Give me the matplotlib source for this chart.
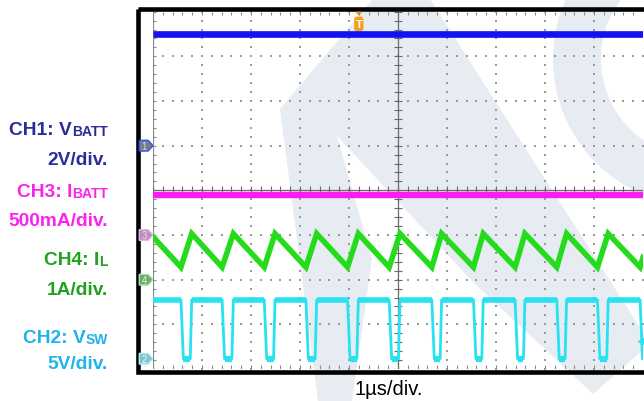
import numpy as np
import matplotlib.pyplot as plt
from matplotlib.patches import Polygon, Rectangle, Wedge, FancyBboxPatch

plt.rcParams['font.family'] = ['Liberation Sans', 'DejaVu Sans']

# time base 1us/div, 10 div, screen centre = 0
t_span = [-5.0, 5.0]

# CH1: V_BATT (V)
vbatt_v = [5.0, 5.0]

# CH3: I_BATT (A)
ibatt_a = [0.45, 0.45]

# CH4: inductor current, vertices of the ripple (us, A)
il_t = [-5.0, -4.43, -4.21, -3.59, -3.36, -2.73, -2.51, -1.88, -1.66, -1.03, -0.81,
        -0.18, 0.04, 0.69, 0.89, 1.54, 1.74, 2.39, 2.59, 3.24, 3.44, 4.07, 4.29, 4.94, 5.0]
il_a = [0.96, 0.28, 1.03, 0.28, 1.03, 0.28, 1.03, 0.28, 1.03, 0.28, 1.03,
        0.28, 1.03, 0.28, 1.03, 0.28, 1.03, 0.28, 1.03, 0.28, 1.03, 0.28, 1.03, 0.28, 0.5]

# CH2: switch node, falling / rising edge times (us) and levels (V)
sw_fall = [-4.43, -3.59, -2.73, -1.88, -1.03, -0.18, 0.69, 1.54, 2.39, 3.24, 4.07, 4.94]
sw_rise = [-4.21, -3.36, -2.51, -1.66, -0.81, 0.04, 0.89, 1.74, 2.59, 3.44, 4.29]
sw_high = 6.6
sw_low = 0.0

# channel settings: units per division and ground marker position (div)
ch_scale = {'CH1': 2.0, 'CH2': 5.0, 'CH3': 0.5, 'CH4': 1.0}
ch_offset = {'CH1': 1.0, 'CH2': -3.77, 'CH3': -1.0, 'CH4': -2.0}
trig_t = -0.8

c_blue = '#1212f4'
c_mag = '#fa1cf2'
c_green = '#24dc1c'
c_cyan = '#28e2f2'


def to_div(vals, ch):
    return [v / ch_scale[ch] + ch_offset[ch] for v in vals]


fig = plt.figure(figsize=(6.44, 4.02), dpi=100)

# background layer in pixel coords: watermark, frame, labels
bg = fig.add_axes([0, 0, 1, 1], zorder=0)
bg.set_xlim(0, 644)
bg.set_ylim(402, 0)
bg.axis('off')

wm = '#e7ebf2'
bg.add_patch(Polygon([(280, 110), (373, 0), (430, 0), (644, 335), (644, 350), (593, 395),
                      (473, 283), (337, 137)], closed=True, fc=wm, ec='none'))
bg.add_patch(Polygon([(280, 110), (337, 137), (372, 260), (352, 402), (318, 402)],
                     closed=True, fc=wm, ec='none'))
bg.add_patch(Wedge((700, 60), 147, 0, 360, width=48, fc=wm, ec='none'))

bg.add_patch(Rectangle((138, 9.5), 600, 363, fill=False, ec='black', lw=3.3))

fig.canvas.draw()
rend = fig.canvas.get_renderer()


def label(y, main, sub, color):
    if sub:
        ts = bg.text(108, y + 1, sub, ha='right', va='baseline', fontsize=10,
                     fontweight='bold', color=color)
        w = ts.get_window_extent(rend).width
    else:
        w = 0
    bg.text(108 - w, y, main, ha='right', va='baseline', fontsize=13.8,
            fontweight='bold', color=color)


label(135, 'CH1: V', 'BATT', '#2b2c98')
label(165, '2V/div.', '', '#2b2c98')
label(197, 'CH3: I', 'BATT', '#fb22ec')
label(226.5, '500mA/div.', '', '#fb22ec')
label(265.5, 'CH4: I', 'L', '#22a020')
label(295, '1A/div.', '', '#22a020')
label(343, 'CH2: V', 'SW', '#1fb2ee')
label(369, '5V/div.', '', '#1fb2ee')

bg.text(389, 395.5, '1\u00b5s/div.', ha='center', va='baseline', fontsize=14.5, color='black')

# scope screen
ax = fig.add_axes([153 / 644, 32 / 402, 490 / 644, 357.3 / 402], zorder=1)
ax.set_xlim(-5, 5)
ax.set_ylim(-4, 4)
ax.set_facecolor('none')
ax.axis('off')

xm = np.arange(-5, 5.001, 0.2)
ym = np.arange(-4, 4.001, 0.2)
dot = '#9a9a9a'
for x in [-4, -3, -2, -1, 1, 2, 3, 4]:
    ax.scatter(np.full(len(ym), x), ym, s=1.0, marker='s', c=dot, linewidths=0)
for y in [-3, -2, -1, 1, 2, 3]:
    ax.scatter(xm, np.full(len(xm), y), s=1.0, marker='s', c=dot, linewidths=0)

ax.axvline(-5, color='#8a8a8a', lw=1.6)
ax.hlines(ym, -5, -4.93, color='#8a8a8a', lw=0.8)
ax.vlines(xm, 3.92, 4, color='#8a8a8a', lw=0.8)
ax.vlines(xm, -4, -3.92, color='#8a8a8a', lw=0.8)
ax.axvline(0, color='#6a6a6a', lw=0.9)
ax.axhline(0, color='#6a6a6a', lw=0.9)
ax.hlines(ym, -0.08, 0.08, color='#6a6a6a', lw=0.8)
ax.vlines(xm, -0.09, 0.09, color='#6a6a6a', lw=0.8)

# traces
ax.plot(t_span, to_div(vbatt_v, 'CH1'), color=c_blue, lw=4.8, solid_capstyle='butt')
ax.plot(t_span, to_div(ibatt_a, 'CH3'), color=c_mag, lw=4.6, solid_capstyle='butt')
ax.plot(il_t, to_div(il_a, 'CH4'), color=c_green, lw=4.0, solid_joinstyle='miter')

sw_t = [t_span[0]]
sw_v = [sw_high]
hi_start = [t_span[0]]
hi_end = []
lo_start = []
lo_end = []
for i, f in enumerate(sw_fall):
    sw_t += [f, f + 0.05]
    sw_v += [sw_high, sw_low]
    hi_end.append(f)
    lo_start.append(f + 0.05)
    if i < len(sw_rise):
        r = sw_rise[i]
        sw_t += [r - 0.03, r]
        sw_v += [sw_low, sw_high]
        lo_end.append(r - 0.03)
        hi_start.append(r)
    else:
        sw_t.append(t_span[1])
        sw_v.append(sw_low)
        lo_end.append(t_span[1])
ax.plot(sw_t, to_div(sw_v, 'CH2'), color=c_cyan, lw=2.0)
ax.hlines(to_div([sw_high] * len(hi_end), 'CH2'), hi_start, hi_end, color=c_cyan, lw=4.0)
ax.hlines(to_div([sw_low] * len(lo_end), 'CH2'), lo_start, lo_end, color=c_cyan, lw=4.4)
ax.plot([4.96], to_div([2.0], 'CH2'), marker='<', ms=4, color=c_cyan, clip_on=False)

# channel ground markers
markers = [('1', 'CH1', '#7d7d7d', '#2f50ff', '#c8d0ff'),
           ('3', 'CH3', '#b391b3', '#f0b0f0', '#f5d8f5'),
           ('4', 'CH4', '#70a870', '#a8e8a8', '#dff5df'),
           ('2', 'CH2', '#80c6cc', '#b0f0f8', '#e6fbff')]
for num, ch, fc, ec, tc in markers:
    y = ch_offset[ch]
    ax.add_patch(Polygon([(-5.28, y - 0.12), (-5.1, y - 0.12), (-5.0, y),
                          (-5.1, y + 0.12), (-5.28, y + 0.12)], closed=True,
                         fc=fc, ec=ec, lw=1, clip_on=False))
    ax.text(-5.18, y, num, ha='center', va='center', fontsize=7, color=tc, clip_on=False)

# trigger position marker
ax.add_patch(Polygon([(trig_t - 0.08, 4.0), (trig_t + 0.08, 4.0), (trig_t, 3.91)],
                     closed=True, fc='#f5a01a', ec='none', clip_on=False))
ax.add_patch(FancyBboxPatch((trig_t - 0.095, 3.56), 0.19, 0.33,
                            boxstyle='round,pad=0,rounding_size=0.06',
                            fc='#f5a01a', ec='none', clip_on=False))
ax.text(trig_t, 3.72, 'T', ha='center', va='center', fontsize=8, fontweight='bold',
        color='white')

fig.savefig('out.png', dpi=100)
